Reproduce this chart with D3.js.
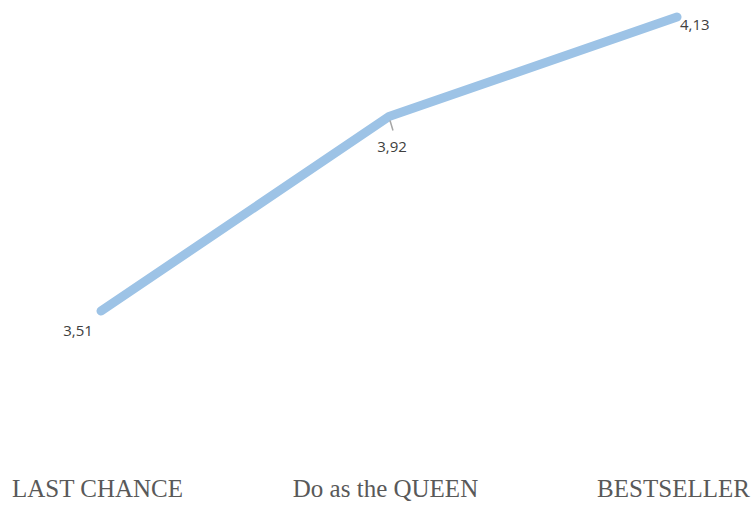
<!DOCTYPE html>
<html>
<head>
<meta charset="utf-8">
<script src="https://cdn.jsdelivr.net/npm/d3@7"></script>
<style>
  body { margin: 0; background: #fff; }
</style>
</head>
<body>
<div id="chart"></div>
<script>
// DATA
const categories = ["LAST CHANCE", "Do as the QUEEN", "BESTSELLER"]
const values = [3.51, 3.92, 4.13]
const valueLabels = ["3,51", "3,92", "4,13"]

const width = 756, height = 506

const svg = d3.select("#chart")
  .append("svg")
    .attr("width", width)
    .attr("height", height)

// SCALES
const xScale = d3.scalePoint()
  .domain(categories)
  .range([101, 677])

const yScale = d3.scaleLinear()
  .domain([3.51, 4.13])
  .range([311, 17])

// X AXIS (labels only)
const xAxis = d3.axisBottom(xScale).tickSize(0).tickPadding(0)
svg.append("g")
  .attr("transform", "translate(-4,497)")
  .call(xAxis)
  .call(g => g.select(".domain").remove())
  .selectAll("text")
    .attr("font-family", "'Liberation Serif', 'Times New Roman', serif")
    .attr("font-size", "25")
    .attr("fill", "#595959")
    .attr("y", 0)
    .attr("dy", 0)

// LINE
const line = d3.line()
  .x((d, i) => xScale(categories[i]))
  .y(d => yScale(d))

svg.append("path")
  .datum(values)
  .attr("d", line)
  .attr("fill", "none")
  .attr("stroke", "#9dc3e6")
  .attr("stroke-width", 9)
  .attr("stroke-linecap", "round")
  .attr("stroke-linejoin", "round")

// LEADER LINE for middle label
svg.append("line")
  .attr("x1", xScale(categories[1]) + 1)
  .attr("y1", yScale(values[1]) + 4)
  .attr("x2", xScale(categories[1]) + 4)
  .attr("y2", yScale(values[1]) + 14)
  .attr("stroke", "#a6a6a6")
  .attr("stroke-width", 1.5)

// VALUE LABELS
const labelOffsets = [[-23, 25], [3, 35], [3, 13]]
svg.selectAll(".vlabel")
  .data(values)
  .enter()
  .append("text")
    .attr("class", "vlabel")
    .attr("x", (d, i) => xScale(categories[i]) + labelOffsets[i][0])
    .attr("y", (d, i) => yScale(d) + labelOffsets[i][1])
    .attr("text-anchor", (d, i) => i === 2 ? "start" : "middle")
    .attr("font-family", "'Open Sans', 'Noto Sans', sans-serif")
    .attr("font-size", "15")
    .attr("fill", "#404040")
    .text((d, i) => valueLabels[i])
</script>
</body>
</html>
